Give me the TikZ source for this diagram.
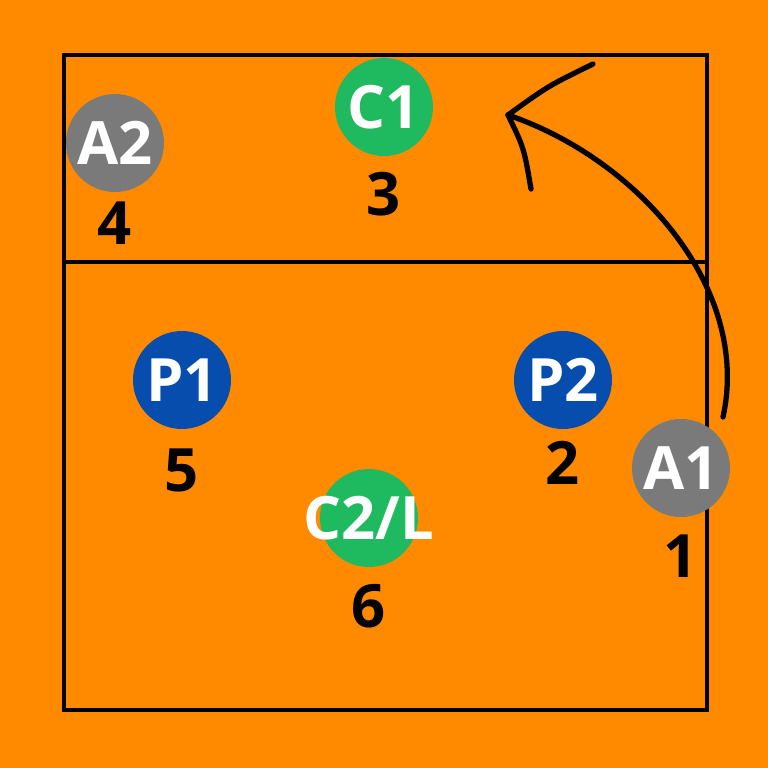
\documentclass[tikz,border=0pt]{standalone}
\usepackage{fontspec}
\setmainfont{Open Sans}
\usetikzlibrary{positioning}
\definecolor{court}{HTML}{FF8A00}
\definecolor{central}{HTML}{1FBA60}
\definecolor{punta}{HTML}{064DAE}
\definecolor{armador}{HTML}{7A7A7A}
\newcommand{\bigbold}{\fontsize{34}{34}\selectfont\bfseries}

\begin{document}
\begin{tikzpicture}[x=0.02cm,y=-0.02cm,line width=2.6pt,
   player/.style={circle,minimum size=1.96cm,inner sep=0pt,text=white,font=\bigbold},
   zone/.style={inner sep=0pt,font=\bigbold}]
   \fill[court] (  0,  0) rectangle (768,768);
   \useasboundingbox (  0,  0) rectangle (768,768);
 %
   \draw ( 64, 55) rectangle (707,710);
   \draw ( 64,262) -- (707,262);
 %
   \node[player,fill=armador] (A2) at (115,143) {A2};
   \node[player,fill=central] (C1) at (384,107) {C1};
   \node[player,fill=punta]   (P1) at (182,380) {P1};
   \node[player,fill=punta]   (P2) at (563,380) {P2};
   \node[player,fill=central] (C2) at (369,518) {\makebox[0pt]{C2/L}};
   \node[player,fill=armador] (A1) at (681,468) {A1};
 %
   \node[zone,below=3pt of A2]   (z4) {4};
   \node[zone,below=6.5pt of C1] (z3) {3};
   \node[zone,below=8.5pt of P1] (z5) {5};
   \node[zone,below=4.5pt of P2] (z2) {2};
   \node[zone,below=7pt of C2]   (z6) {6};
   \node[zone,below=7.5pt of A1] (z1) {1};
 %
   \coordinate (from) at (723,417);
   \coordinate (tip)  at (508,115);
   \coordinate (barbA) at (593, 64);
   \coordinate (barbB) at (531,189);
   \draw[line width=3pt,line cap=round] (from) .. controls (751,290) and (640,160) .. (tip);
   \draw[line width=3pt,line cap=round] (barbA) .. controls (548, 86) .. (tip);
   \draw[line width=3pt,line cap=round] (barbB) .. controls (524,148) .. (tip);
\end{tikzpicture}
\end{document}
